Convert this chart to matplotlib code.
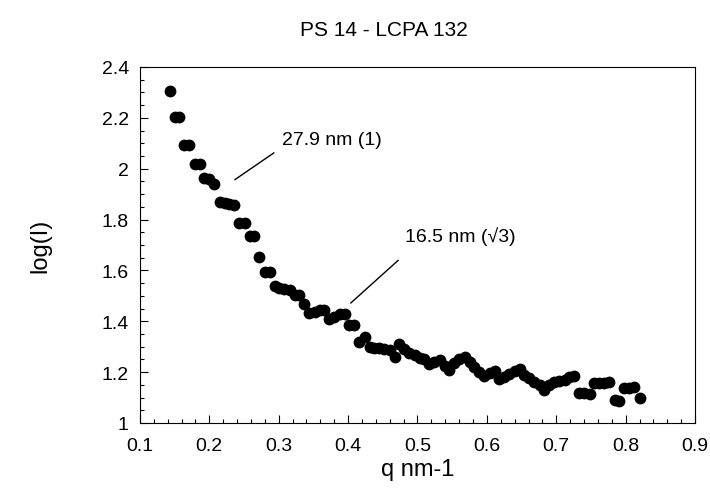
import numpy as np
import matplotlib.pyplot as plt
from matplotlib.ticker import MultipleLocator

plt.rcParams['font.family'] = ['Liberation Sans', 'DejaVu Sans']

# scattering vector q (nm-1)
q = [0.143, 0.150, 0.157, 0.164, 0.171, 0.179, 0.186, 0.193, 0.200, 0.207,
     0.215, 0.222, 0.229, 0.236, 0.243, 0.251, 0.258, 0.265, 0.272, 0.280,
     0.287, 0.294, 0.301, 0.308, 0.316, 0.323, 0.330, 0.337, 0.344, 0.352,
     0.359, 0.366, 0.373, 0.380, 0.388, 0.395, 0.402, 0.409, 0.416, 0.424,
     0.431, 0.438, 0.445, 0.452, 0.460, 0.467, 0.474, 0.481, 0.488, 0.496,
     0.503, 0.510, 0.517, 0.524, 0.532, 0.539, 0.546, 0.553, 0.560, 0.568,
     0.575, 0.582, 0.589, 0.596, 0.604, 0.611, 0.618, 0.625, 0.632, 0.640,
     0.647, 0.654, 0.661, 0.668, 0.676, 0.683, 0.690, 0.697, 0.704, 0.712,
     0.719, 0.726, 0.733, 0.740, 0.748, 0.755, 0.762, 0.769, 0.776, 0.784,
     0.791, 0.798, 0.805, 0.812, 0.820]

logI = [2.307, 2.203, 2.203, 2.095, 2.095, 2.020, 2.020, 1.963, 1.960, 1.940,
        1.869, 1.867, 1.863, 1.859, 1.785, 1.785, 1.737, 1.737, 1.652, 1.593,
        1.593, 1.537, 1.532, 1.528, 1.524, 1.502, 1.502, 1.467, 1.434, 1.436,
        1.443, 1.443, 1.410, 1.417, 1.430, 1.428, 1.384, 1.384, 1.319, 1.338,
        1.300, 1.293, 1.293, 1.289, 1.286, 1.260, 1.310, 1.290, 1.276, 1.267,
        1.254, 1.250, 1.231, 1.240, 1.247, 1.225, 1.208, 1.234, 1.250, 1.260,
        1.240, 1.220, 1.200, 1.184, 1.195, 1.205, 1.171, 1.180, 1.192, 1.205,
        1.212, 1.190, 1.175, 1.160, 1.149, 1.129, 1.150, 1.160, 1.165, 1.169,
        1.180, 1.184, 1.116, 1.116, 1.114, 1.156, 1.158, 1.158, 1.160, 1.090,
        1.088, 1.138, 1.138, 1.140, 1.099]

fig = plt.figure(figsize=(7.1, 4.89), dpi=100)
ax = fig.add_axes([0.197, 0.133, 0.782, 0.728])

ax.plot(q, logI, 'o', color='black', markersize=8.5, markeredgewidth=0)

# peak annotations
ax.plot([0.237, 0.293], [1.957, 2.062], color='black', lw=1)
ax.text(0.305, 2.114, '27.9 nm (1)', fontsize=14, va='center')
ax.plot([0.404, 0.472], [1.472, 1.639], color='black', lw=1)
ax.text(0.482, 1.737, '16.5 nm (\u221a3)', fontsize=14, va='center')

ax.set_xlim(0.1, 0.9)
ax.set_ylim(1, 2.4)
ax.xaxis.set_major_locator(MultipleLocator(0.1))
ax.xaxis.set_minor_locator(MultipleLocator(0.02))
ax.yaxis.set_major_locator(MultipleLocator(0.2))
ax.yaxis.set_minor_locator(MultipleLocator(0.05))
ax.set_xticklabels([f'{v:g}' for v in ax.get_xticks()])
ax.set_yticklabels([f'{v:g}' for v in ax.get_yticks()])
ax.tick_params(which='both', direction='in', labelsize=14, top=False, right=False)
ax.tick_params(axis='x', which='major', pad=10)
ax.tick_params(axis='y', which='major', pad=8)
ax.tick_params(which='major', length=6, width=0.8)
ax.tick_params(which='minor', length=3, width=0.8)
for s in ax.spines.values():
    s.set_linewidth(0.8)

ax.set_xlabel('q nm-1', fontsize=17, labelpad=3)
ax.set_ylabel('log(I)', fontsize=17, labelpad=36)
fig.text(0.54, 0.938, 'PS 14 - LCPA 132', fontsize=15, ha='center', va='center')

fig.savefig('out.png', dpi=100)
